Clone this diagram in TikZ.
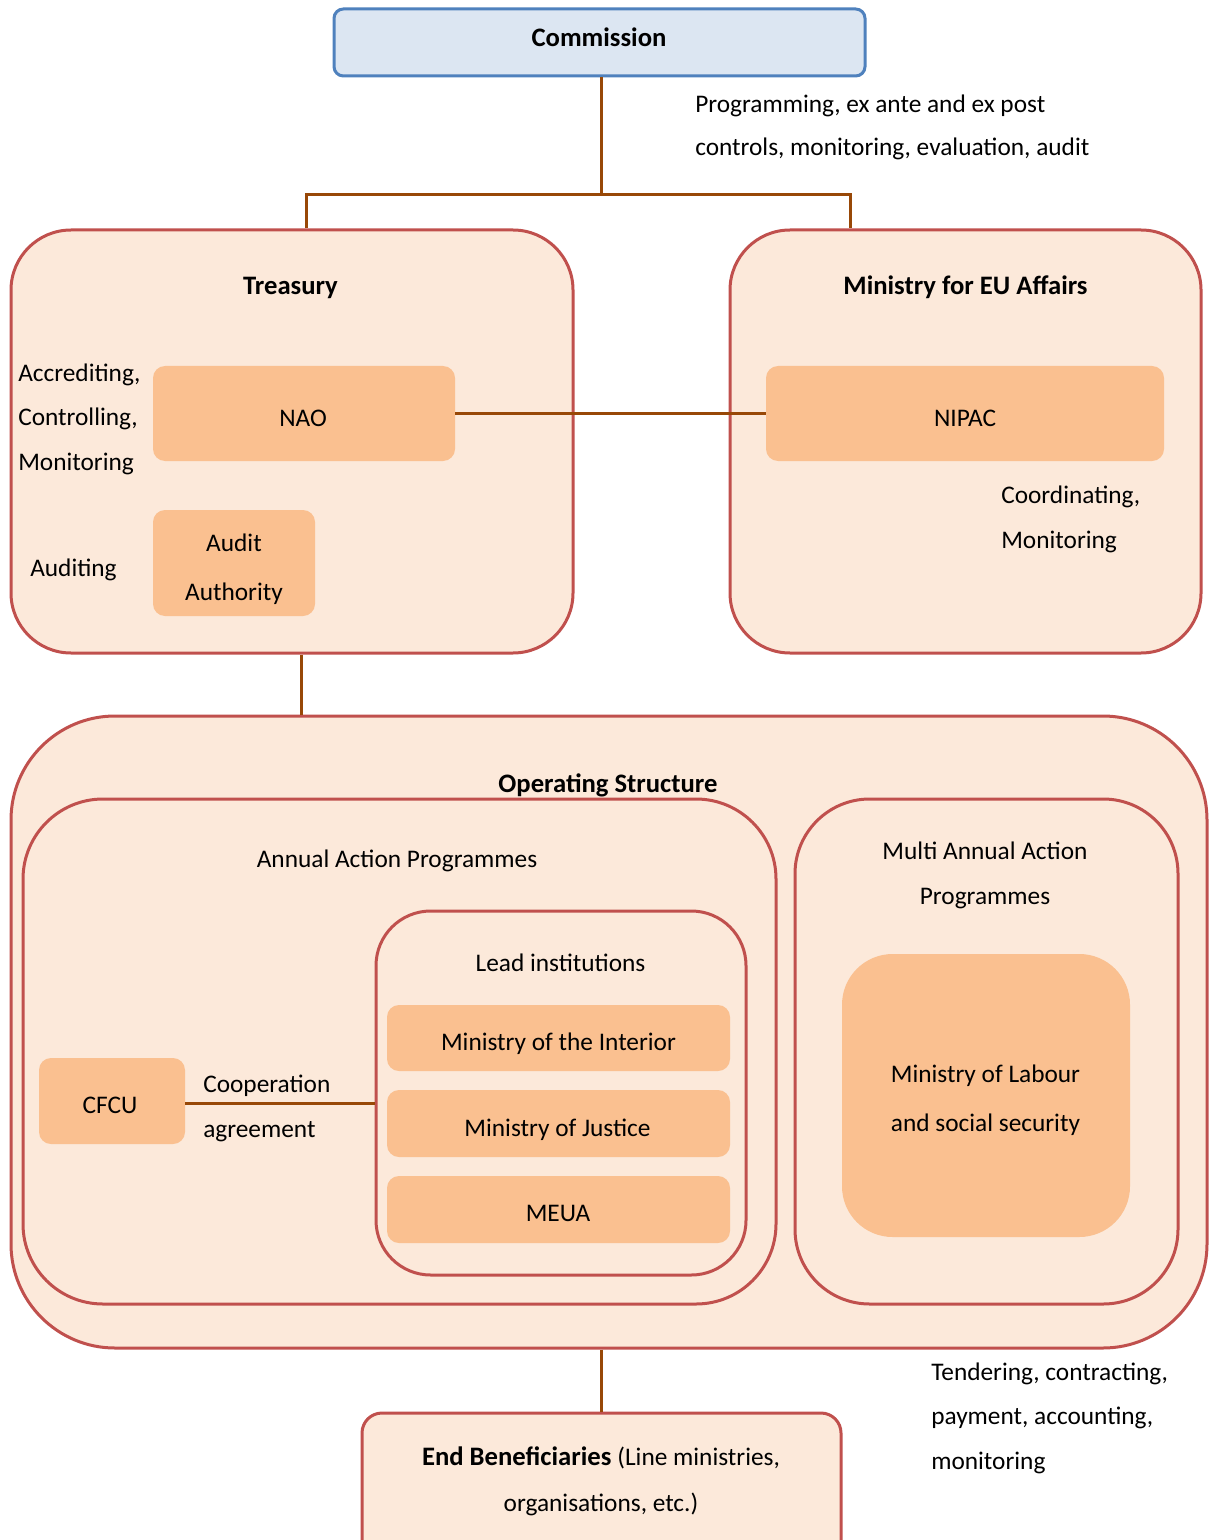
\documentclass[tikz,border=0pt]{standalone}
\usepackage{fontspec}
\setmainfont{Carlito}
\usetikzlibrary{fit}
\definecolor{peach}{HTML}{FCE9DA}
\definecolor{orng}{HTML}{FAC090}
\definecolor{bred}{HTML}{C0504D}
\definecolor{brwn}{HTML}{984807}
\definecolor{cfill}{HTML}{DCE6F2}
\definecolor{cblue}{HTML}{4F81BD}
\tikzset{
  outerbox/.style={draw=bred, fill=peach, line width=2.25pt, inner sep=0pt},
  innerbox/.style={fill=orng, draw=none, inner sep=0pt, rounded corners=9pt},
  conn/.style={draw=brwn, line width=2.25pt},
  lbl/.style={inner sep=0pt, anchor=base, font=\fontsize{19}{33.4}\selectfont, text=black},
  blbl/.style={lbl, font=\fontsize{20}{33.4}\selectfont\bfseries},
}
\begin{document}
\begin{tikzpicture}[x=0.75pt,y=-0.75pt]
\useasboundingbox (0,0) rectangle (1210,1540);
% boxes
\node[fit={(334,9) (865,76)}, draw=cblue, fill=cfill, line width=2.25pt, inner sep=0pt, rounded corners=7pt] (commission) {};
\node[outerbox, rounded corners=45pt, fit={(11,230) (573,653)}] (treasury) {};
\node[outerbox, rounded corners=45pt, fit={(730,230) (1201,653)}] (ministry) {};
\node[innerbox, fit={(153,366) (455,461)}] (nao) {};
\node[innerbox, fit={(766,366) (1164,461)}] (nipac) {};
\node[innerbox, fit={(153,510) (315,616)}] (audit) {};
\node[outerbox, rounded corners=78pt, fit={(11,716) (1207,1348)}] (operating) {};
\node[outerbox, rounded corners=60pt, fit={(23,799) (776,1304)}] (annual) {};
\node[outerbox, rounded corners=56pt, fit={(795,799) (1178,1304)}] (multi) {};
\node[innerbox, rounded corners=38pt, fit={(842,954) (1130,1237)}] (labour) {};
\node[outerbox, rounded corners=41pt, fit={(376,911) (746,1275)}] (lead) {};
\node[innerbox, fit={(387,1005) (730,1071)}] (interior) {};
\node[innerbox, fit={(387,1090) (730,1157)}] (justice) {};
\node[innerbox, fit={(387,1176) (730,1243)}] (meua) {};
\node[innerbox, fit={(39,1058) (185,1144)}] (cfcu) {};
\node[outerbox, rounded corners=15pt, fit={(362,1413) (841,1560)}] (endb) {};
% connectors
\coordinate (j) at (601,195);
\draw[conn] (commission.south -| j) -- (j);
\draw[conn] (treasury.north -| 306,0) |- (j) -| (ministry.north -| 850,0);
\draw[conn] (nao.east) -- (nipac.west);
\draw[conn] (treasury.south -| 301,0) -- (operating.north -| 301,0);
\draw[conn] (cfcu.east |- 0,1103) -- (lead.west |- 0,1103);
\draw[conn] (operating.south -| 601,0) -- (endb.north -| 601,0);
% texts (multi-line nodes are anchored at the baseline of their last line)
\node[blbl] (tcomm) at (599,46.5) {Commission};
\node[lbl, anchor=base west, align=left, font=\fontsize{19}{32.6}\selectfont] (tprog) at (695,155.5) {Programming, ex ante and ex post\\controls, monitoring, evaluation, audit};
\node[blbl] (ttreas) at (290.5,295) {Treasury};
\node[blbl] (tmin) at (965.5,295) {Ministry for EU Affairs};
\node[lbl, anchor=base west, align=left] (tacc) at (18,470.5) {Accrediting,\\Controlling,\\Monitoring};
\node[lbl] (tnao) at (303,426) {NAO};
\node[lbl] (tnipac) at (965,426) {NIPAC};
\node[lbl, align=center, font=\fontsize{19}{36.4}\selectfont] (taudit) at (234,600) {Audit\\Authority};
\node[lbl, anchor=base west] (tauditing) at (30,576) {Auditing};
\node[lbl, anchor=base west, align=left] (tcoord) at (1001,548.5) {Coordinating,\\Monitoring};
\node[blbl] (toper) at (608,792) {Operating Structure};
\node[lbl] (tannual) at (397,867) {Annual Action Programmes};
\node[lbl, align=center] (tmulti) at (985,904.5) {Multi Annual Action\\Programmes};
\node[lbl, align=center, font=\fontsize{19}{36.75}\selectfont] (tlabour) at (985.5,1131) {Ministry of Labour\\and social security};
\node[lbl] (tlead) at (560.5,971) {Lead institutions};
\node[lbl] (tinter) at (558.5,1050) {Ministry of the Interior};
\node[lbl] (tjust) at (557.5,1136) {Ministry of Justice};
\node[lbl] (tmeua) at (558,1221.5) {MEUA};
\node[lbl] (tcfcu) at (110,1113) {CFCU};
\node[lbl, anchor=base west, align=left] (tcoop) at (203,1137) {Cooperation\\agreement};
\node[lbl, align=center, font=\fontsize{19}{35}\selectfont] (tend) at (601,1511.7) {\fontsize{20}{35}\selectfont\textbf{End Beneficiaries} \fontsize{19}{35}\selectfont(Line ministries,\\organisations, etc.)};
\node[lbl, anchor=base west, align=left] (ttend) at (931,1469.5) {Tendering, contracting,\\payment, accounting,\\monitoring};
\end{tikzpicture}
\end{document}
